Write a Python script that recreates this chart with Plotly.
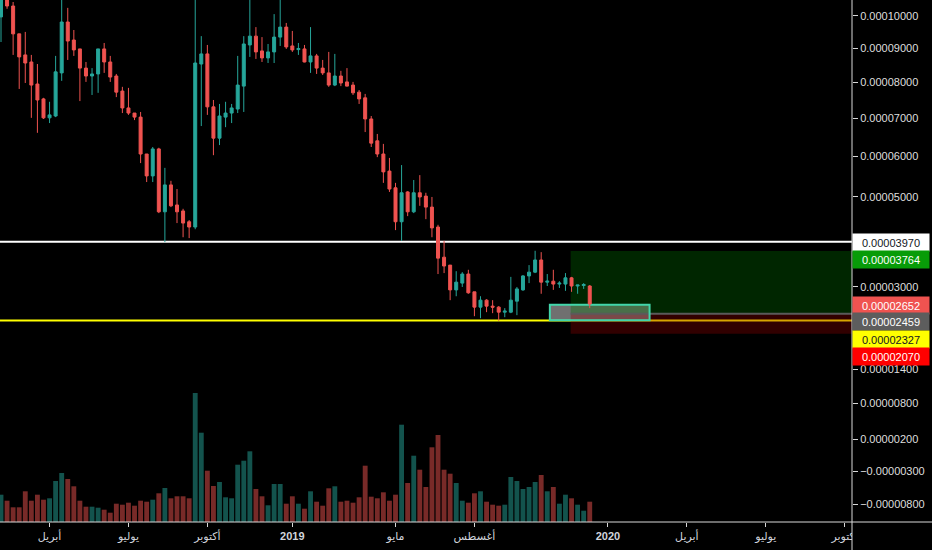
import pandas as pd
import plotly.graph_objects as go

# ---------------- data (prices in units of 1e-5) ----------------
PRICE_UNIT = 1e-5
# TradingView-style log scale: log(price + offset), lets negative values fit on the axis
LOG_OFFSET = 1e-4

dates = pd.date_range("2018-02-05", periods=98, freq="W-MON")

opens = [9.97, 10.55, 10.32, 9.44, 8.80, 8.59, 7.95, 7.53, 7.01, 7.06,
         8.27, 9.81, 9.25, 8.98, 8.41, 8.18, 8.24, 8.98, 8.59, 8.18,
         7.75, 7.28, 7.14, 7.03, 6.06, 5.51, 6.19, 4.65, 5.29, 4.81,
         4.67, 4.42, 4.30, 8.53, 8.83, 7.31, 6.47, 7.03, 7.14, 7.25,
         7.89, 9.10, 9.37, 8.92, 8.71, 8.89, 9.34, 9.65, 9.07, 8.96,
         8.98, 8.59, 8.77, 8.41, 8.27, 7.92, 8.18, 8.01, 7.92, 7.72,
         7.56, 6.98, 6.40, 6.06, 5.63, 5.22, 4.42, 5.12, 4.65, 5.10,
         5.02, 4.76, 4.30, 3.63, 3.46, 2.94, 3.08, 3.27, 2.90, 2.59,
         2.73, 2.61, 2.59, 2.49, 2.49, 2.71, 2.94, 3.23, 3.31, 3.57,
         3.10, 3.12, 3.06, 3.06, 3.19, 3.02, 3.03, 3.02]
highs = [10.62, 10.60, 10.45, 9.44, 9.50, 8.80, 8.53, 7.56, 7.45, 8.77,
         10.60, 10.26, 9.56, 8.98, 8.59, 8.41, 8.98, 9.16, 8.77, 8.24,
         7.87, 7.84, 7.14, 7.17, 6.06, 6.24, 6.22, 5.71, 5.39, 5.19,
         4.72, 4.46, 10.60, 9.37, 9.10, 7.50, 7.39, 7.45, 7.39, 8.77,
         9.37, 10.60, 9.65, 9.34, 9.13, 10.06, 10.55, 9.78, 9.53, 9.16,
         9.10, 9.65, 8.83, 8.65, 8.89, 8.83, 8.33, 8.41, 8.01, 7.78,
         7.67, 7.06, 6.58, 6.32, 5.96, 5.34, 5.78, 5.14, 5.41, 5.53,
         5.10, 5.00, 4.35, 3.99, 3.46, 3.33, 3.31, 3.36, 2.90, 2.81,
         2.75, 2.73, 2.61, 2.57, 3.21, 3.00, 3.25, 3.46, 3.77, 3.74,
         3.27, 3.36, 3.12, 3.29, 3.21, 3.04, 3.08, 3.04]
lows = [9.19, 10.23, 8.80, 7.81, 7.98, 7.01, 6.61, 6.98, 6.87, 7.03,
        8.04, 8.65, 8.77, 7.47, 8.01, 7.64, 7.70, 8.27, 8.01, 7.58,
        7.14, 7.09, 6.95, 5.83, 5.36, 5.36, 4.62, 3.96, 4.76, 4.39,
        4.07, 4.05, 4.25, 6.79, 7.09, 6.03, 6.29, 6.76, 6.87, 7.14,
        7.17, 8.74, 8.68, 8.59, 8.56, 8.56, 9.07, 8.98, 8.89, 8.80,
        8.58, 8.27, 8.24, 8.21, 7.87, 7.89, 7.89, 7.88, 7.64, 7.39,
        6.63, 6.24, 5.98, 5.34, 5.12, 4.23, 3.99, 4.55, 4.62, 4.79,
        4.48, 4.07, 3.27, 3.29, 2.73, 2.81, 3.00, 2.86, 2.41, 2.37,
        2.49, 2.47, 2.32, 2.39, 2.47, 2.43, 2.92, 3.08, 3.29, 2.86,
        3.02, 2.94, 2.98, 2.92, 2.90, 2.86, 2.96, 2.57]
closes = [10.55, 10.32, 9.44, 8.74, 8.56, 7.92, 7.50, 7.01, 7.09, 8.30,
          9.81, 9.22, 8.95, 8.41, 8.18, 8.24, 8.98, 8.59, 8.15, 7.72,
          7.28, 7.14, 7.03, 6.06, 5.51, 6.19, 4.65, 5.29, 4.79, 4.65,
          4.39, 4.30, 8.56, 8.83, 7.31, 6.47, 7.06, 7.14, 7.28, 7.92,
          9.13, 9.37, 8.89, 8.71, 8.89, 9.34, 9.65, 9.04, 8.95, 8.99,
          8.59, 8.77, 8.41, 8.27, 7.92, 8.18, 7.98, 7.89, 7.70, 7.53,
          6.98, 6.34, 6.06, 5.61, 5.19, 4.42, 5.10, 4.65, 5.10, 5.00,
          4.76, 4.28, 3.61, 3.44, 2.94, 3.10, 3.27, 2.88, 2.59, 2.73,
          2.61, 2.59, 2.49, 2.51, 2.73, 2.96, 3.23, 3.31, 3.57, 3.10,
          3.12, 3.06, 3.08, 3.19, 3.02, 3.04, 3.05, 2.652]
# volume (arbitrary units)
volumes = [27.3, 21.3, 14.7, 14.7, 30.7, 21.3, 27.3, 22.3, 23.7, 41.0,
           49.0, 43.0, 35.7, 21.3, 15.3, 15.3, 14.3, 12.3, 9.3, 18.3,
           17.3, 19.3, 16.3, 21.3, 20.3, 22.3, 28.7, 34.0, 23.7, 25.7,
           25.7, 23.7, 129.0, 89.3, 51.3, 36.0, 40.0, 24.7, 23.7, 57.3,
           61.3, 70.7, 33.0, 25.7, 16.7, 38.0, 38.0, 18.3, 25.7, 18.3,
           13.3, 30.7, 20.3, 16.3, 33.7, 35.7, 20.3, 21.3, 19.3, 24.7,
           56.3, 25.3, 23.7, 29.7, 21.3, 27.3, 97.3, 39.0, 66.3, 52.3,
           35.0, 74.7, 87.0, 52.3, 48.3, 39.0, 21.3, 19.3, 28.7, 30.7,
           20.3, 17.3, 16.3, 17.3, 45.0, 41.0, 33.0, 35.0, 40.0, 47.0,
           30.7, 35.0, 18.3, 27.3, 23.7, 17.3, 11.3, 20.3]

# horizontal levels / position tool
support_level = 3.970
yellow_level = 2.327
target_level = 3.764
entry_level = 2.459
stop_level = 2.070
last_price = 2.652
box_low, box_high = 2.33, 2.64

# axis ticks
y_tick_prices = [10.0, 9.0, 8.0, 7.0, 6.0, 5.0, 3.0, 1.4, 0.8, 0.2, -0.3, -0.8]
y_tick_text = ["0.00010000", "0.00009000", "0.00008000", "0.00007000",
               "0.00006000", "0.00005000", "0.00003000", "0.00001400",
               "0.00000800", "0.00000200", "\u22120.00000300", "\u22120.00000800"]
x_tick_dates = ["2018-04-02", "2018-07-02", "2018-10-01", "2019-01-07",
                "2019-05-06", "2019-08-05", "2020-01-06", "2020-04-06",
                "2020-07-06", "2020-10-05"]
x_tick_text = ["أبريل", "يوليو", "أكتوبر", "<b>2019</b>", "مايو", "أغسطس",
               "<b>2020</b>", "أبريل", "يوليو", "أكتوبر"]

# price labels on the right scale
price_labels = [
    ("0.00003970", "#ffffff", "#131722", 242.5),
    ("0.00003764", "#089c08", "#ffffff", 259.5),
    ("0.00002652", "#ef5350", "#ffffff", 305.0),
    ("0.00002459", "#5d5d5d", "#ffffff", 321.5),
    ("0.00002327", "#ffff00", "#131722", 339.0),
    ("0.00002070", "#ff0000", "#ffffff", 356.5),
]


def sc(v):
    return v * PRICE_UNIT + LOG_OFFSET


UP = "#26a69a"
DOWN = "#ef5350"
FONT = "Liberation Sans, Arial, DejaVu Sans, sans-serif"
PLOT_H = 522

vol_colors = ["rgba(38,166,154,0.5)" if c >= o else "rgba(239,83,80,0.5)"
              for o, c in zip(opens, closes)]

fig = go.Figure()
fig.add_trace(go.Bar(x=dates, y=volumes, yaxis="y2", marker_color=vol_colors,
                     marker_line_width=0, width=5.6 * 86400000, hoverinfo="skip"))
fig.add_trace(go.Candlestick(
    x=dates,
    open=[sc(v) for v in opens], high=[sc(v) for v in highs],
    low=[sc(v) for v in lows], close=[sc(v) for v in closes],
    increasing=dict(line=dict(color=UP, width=1), fillcolor=UP),
    decreasing=dict(line=dict(color=DOWN, width=1), fillcolor=DOWN),
    whiskerwidth=0, hoverinfo="skip"))

shapes = [
    dict(type="line", xref="paper", x0=0, x1=1, yref="y",
         y0=sc(yellow_level), y1=sc(yellow_level),
         line=dict(color="#ffff00", width=2), layer="below"),
    dict(type="line", xref="paper", x0=0, x1=1, yref="y",
         y0=sc(support_level), y1=sc(support_level),
         line=dict(color="#ffffff", width=2), layer="below"),
    dict(type="rect", xref="x", x0="2019-10-31", x1="2020-02-23", yref="y",
         y0=sc(box_low), y1=sc(box_high),
         fillcolor="rgba(150,150,150,0.75)", line=dict(width=0),
         layer="below"),
    dict(type="rect", xref="x", x0="2019-11-24", x1="2021-06-01", yref="y",
         y0=sc(entry_level), y1=sc(target_level),
         fillcolor="rgba(0,110,0,0.35)", line=dict(width=0), layer="below"),
    dict(type="rect", xref="x", x0="2019-11-24", x1="2021-06-01", yref="y",
         y0=sc(stop_level), y1=sc(entry_level),
         fillcolor="rgba(140,0,0,0.35)", line=dict(width=0), layer="below"),
    dict(type="line", xref="x", x0="2019-11-24", x1="2021-06-01", yref="y",
         y0=sc(entry_level), y1=sc(entry_level),
         line=dict(color="#5a5a5a", width=2), layer="below"),
    dict(type="rect", xref="x", x0="2019-10-31", x1="2020-02-23", yref="y",
         y0=sc(box_low), y1=sc(box_high),
         fillcolor="rgba(0,0,0,0)", line=dict(color="#42d6aa", width=2),
         layer="below"),
    # right price-scale strip mask below the time axis and frame lines
    dict(type="rect", xref="paper", yref="paper", x0=1, x1=1.2, y0=-0.1, y1=0,
         fillcolor="#000000", line=dict(width=0), layer="above"),
    dict(type="line", xref="paper", yref="paper", x0=0, x1=1.2, y0=0, y1=0,
         line=dict(color="#d9d9d9", width=1), layer="above"),
    dict(type="line", xref="paper", yref="paper", x0=1, x1=1, y0=-0.1, y1=1,
         line=dict(color="#d9d9d9", width=1), layer="above"),
]

annotations = []
for txt, bg, fg, ypix in price_labels:
    annotations.append(dict(
        xref="paper", yref="paper", x=1, y=1 - ypix / PLOT_H,
        xanchor="left", yanchor="middle", text=txt, showarrow=False,
        bgcolor=bg, font=dict(color=fg, size=11, family=FONT),
        width=72, height=13, borderpad=2, align="center"))

fig.update_layout(
    width=932, height=550,
    margin=dict(l=0, r=80, t=0, b=28),
    paper_bgcolor="#000000", plot_bgcolor="#000000",
    showlegend=False, boxgap=0.3,
    shapes=shapes, annotations=annotations,
    xaxis=dict(type="date", range=["2018-02-03 20:24", "2020-10-13 11:00"],
               tickvals=x_tick_dates, ticktext=x_tick_text,
               showgrid=False, zeroline=False, showline=False,
               ticks="outside", ticklen=4, tickcolor="#d9d9d9",
               tickfont=dict(color="#d1d4dc", size=11, family=FONT),
               rangeslider=dict(visible=False), fixedrange=True),
    yaxis=dict(type="log", range=[-4.048323, -3.687929], side="right",
               tickvals=[sc(v) for v in y_tick_prices], ticktext=y_tick_text,
               showgrid=False, zeroline=False, showline=False,
               ticks="outside", ticklen=5, tickcolor="#d9d9d9",
               tickfont=dict(color="#dedede", size=11, family=FONT),
               fixedrange=True),
    yaxis2=dict(overlaying="y", range=[0, PLOT_H], visible=False, fixedrange=True),
)

fig.write_html(
    "out.html",
    config={"displayModeBar": False},
    post_script="document.body.style.margin='0';document.body.style.padding='0';"
                "document.body.style.background='#000';",
)
